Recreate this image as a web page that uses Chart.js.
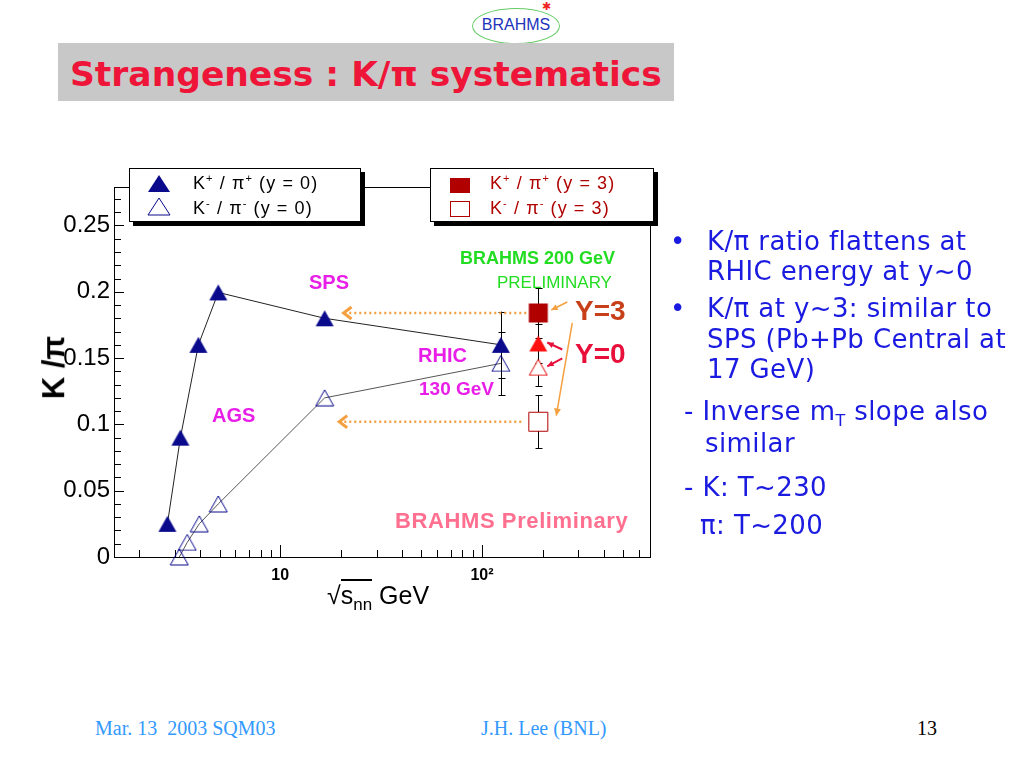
<!DOCTYPE html>
<html>
<head>
<meta charset="utf-8">
<title>Strangeness : K/π systematics</title>
<script src="https://cdn.jsdelivr.net/npm/chart.js@4.4.1/dist/chart.umd.min.js"></script>
<style>
  body { margin: 0; width: 1024px; height: 768px; position: relative; overflow: hidden; background: #fff;
         font-family: "Liberation Sans", Arial, sans-serif; }
  .abs { position: absolute; white-space: nowrap; line-height: 1; }
  #titleBar { left: 58px; top: 43px; width: 616px; height: 58px; background: #c8c8c8; }
  #title { left: 70px; top: 54px; font: bold 34.5px "DejaVu Sans", sans-serif; color: #ee1538; }
  #logo { left: 472px; top: 8px; width: 86px; height: 34px; border: 1px solid #66cc66; border-radius: 50%; }
  #logoTxt { left: 472px; top: 17px; width: 88px; text-align: center; font-size: 16px; color: #2233bb; }
  #chartBox { position: absolute; left: 0; top: 150px; width: 680px; height: 470px; }
  .legbox { position: absolute; background: #fff; border: 1px solid #000; box-shadow: 4px 4px 0 #000; }
  .legtxt { position: absolute; white-space: nowrap; font-size: 18px; line-height: 1; letter-spacing: 1.1px; }
  .legtxt sup { font-size: 11px; vertical-align: 7px; }
  .sym { position: absolute; }
  .mag { color: #e81ee8; font-weight: bold; font-size: 20px; }
  .grn { color: #22dd22; }
  .bul { color: #1a1ae0; font: 26px "DejaVu Sans", sans-serif; letter-spacing: 0.4px; }
  .foot { font: 20px "Liberation Serif", serif; color: #3399ff; }
</style>
</head>
<body>
<div id="logo" class="abs"></div>
<div id="logoTxt" class="abs">BRAHMS</div>
<div class="abs" style="left:542px;top:1px;font-size:11px;color:#ee2222">✱</div>
<div id="titleBar" class="abs"></div>
<div id="title" class="abs">Strangeness : K/π systematics</div>

<div id="chartBox"><canvas id="kpiChart" width="680" height="470"></canvas></div>

<!-- legends -->
<div class="legbox" style="left:129px;top:168px;width:230px;height:52px">
  <svg class="sym" style="left:17px;top:5px" width="24" height="19"><polygon points="12,1 23,18 1,18" fill="#0a0a8c"/></svg>
  <div class="legtxt" style="left:63px;top:4px">K<sup>+</sup> / π<sup>+</sup> (y = 0)</div>
  <svg class="sym" style="left:17px;top:28px" width="24" height="19"><polygon points="12,1 23,18 1,18" fill="none" stroke="#0a0a8c" stroke-width="1"/></svg>
  <div class="legtxt" style="left:63px;top:29px">K<sup>-</sup> / π<sup>-</sup> (y = 0)</div>
</div>
<div class="legbox" style="left:430px;top:168px;width:222px;height:52px">
  <svg class="sym" style="left:18px;top:8px" width="22" height="17"><rect x="1" y="1" width="20" height="15" fill="#b00000"/></svg>
  <div class="legtxt" style="left:59px;top:4px;color:#b00000">K<sup>+</sup> / π<sup>+</sup> (y = 3)</div>
  <svg class="sym" style="left:18px;top:31px" width="22" height="18"><rect x="1.5" y="1.5" width="19" height="15" fill="#fff" stroke="#b00000" stroke-width="1"/></svg>
  <div class="legtxt" style="left:59px;top:29px;color:#b00000">K<sup>-</sup> / π<sup>-</sup> (y = 3)</div>
</div>

<!-- axis titles -->
<div class="abs" style="left:22px;top:352px;font-size:31px;font-weight:bold;transform:rotate(-90deg);transform-origin:center">K /π</div>
<div class="abs" style="left:327px;top:583px;font-size:25px">√<span style="border-top:2px solid #000">s<sub style="font-size:17px">nn</sub></span> GeV</div>

<!-- annotations -->
<div class="abs mag" style="left:309px;top:272px">SPS</div>
<div class="abs mag" style="left:212px;top:405px">AGS</div>
<div class="abs mag" style="left:418px;top:345px">RHIC</div>
<div class="abs mag" style="left:419px;top:379px;font-size:19px">130 GeV</div>
<div class="abs grn" style="left:460px;top:249px;font-size:18px;font-weight:bold">BRAHMS 200 GeV</div>
<div class="abs grn" style="left:497px;top:274px;font-size:17px">PRELIMINARY</div>
<div class="abs" style="left:575px;top:297px;font-size:28px;font-weight:bold;color:#c8401a">Y=3</div>
<div class="abs" style="left:575px;top:340px;font-size:28px;font-weight:bold;color:#e8103a">Y=0</div>
<div class="abs" style="left:395px;top:510px;font-size:22px;font-weight:bold;letter-spacing:0.6px;color:#ff6f8f">BRAHMS Preliminary</div>

<!-- bullets -->
<div class="abs bul" style="left:670px;top:226px">•</div>
<div class="abs bul" style="left:707px;top:226px">K/π ratio flattens at</div>
<div class="abs bul" style="left:707px;top:256px">RHIC energy at y~0</div>
<div class="abs bul" style="left:670px;top:293px">•</div>
<div class="abs bul" style="left:707px;top:293px">K/π at y~3: similar to</div>
<div class="abs bul" style="left:707px;top:324px">SPS (Pb+Pb Central at</div>
<div class="abs bul" style="left:707px;top:354px">17 GeV)</div>
<div class="abs bul" style="left:684px;top:396px">- Inverse m<sub style="font-size:16px">T</sub> slope also</div>
<div class="abs bul" style="left:705px;top:428px">similar</div>
<div class="abs bul" style="left:684px;top:472px">- K: T~230</div>
<div class="abs bul" style="left:700px;top:510px">π: T~200</div>

<!-- footer -->
<div class="abs foot" style="left:95px;top:717px">Mar. 13&nbsp; 2003 SQM03</div>
<div class="abs foot" style="left:481px;top:717px">J.H. Lee (BNL)</div>
<div class="abs foot" style="left:917px;top:717px;color:#000">13</div>

<script>
// sqrt(s_nn) in GeV, K/pi ratio, error -- AGS, SPS, RHIC 130 (y = 0)
const energyKp = [2.76, 3.2, 3.93, 4.93, 16.6, 124];
const ratioKp  = [0.025, 0.090, 0.160, 0.1995, 0.180, 0.160];
const errKp    = [0, 0, 0, 0, 0, 0.025];

const energyKm = [3.16, 3.46, 3.97, 4.93, 16.6, 124];
const ratioKm  = [0.0, 0.011, 0.025, 0.040, 0.120, 0.146];
const errKm    = [0, 0, 0, 0, 0, 0.024];

// BRAHMS 200 GeV preliminary
const energyBrahms = [190];
const ratioKpY0 = [0.161];
const errKpY0   = [0.015];
const ratioKmY0 = [0.143];
const errKmY0   = [0.014];
const ratioKpY3 = [0.184];
const errKpY3   = [0.019];
const ratioKmY3 = [0.102];
const errKmY3   = [0.020];

// axis ticks
const yTicks = [0, 0.05, 0.1, 0.15, 0.2, 0.25];
const yMinorTicks = [0.01, 0.02, 0.03, 0.04, 0.06, 0.07, 0.08, 0.09, 0.11, 0.12, 0.13, 0.14,
                     0.16, 0.17, 0.18, 0.19, 0.21, 0.22, 0.23, 0.24, 0.26, 0.27];
const xLabelTicks = [10, 100];
const xLabelText  = ['10', '10²'];
const xMinorTicks = [2, 3, 4, 5, 6, 7, 8, 9, 20, 30, 40, 50, 60, 70, 80, 90, 200, 300, 400, 500, 600];

const NAVY = '#0a0a8c';
const RED = '#ff1010';
const DARKRED = '#b00000';
const ORANGE = '#f5a040';

function toPoints(xs, ys) {
    return xs.map((x, i) => ({ x: x, y: ys[i] }));
}

// marker drawn into a small canvas so it is centred on its box like ROOT markers
function makeMarker(shape, w, h, fill, stroke) {
    const c = document.createElement('canvas');
    c.width = w + 2;
    c.height = h + 2;
    const g = c.getContext('2d');
    g.beginPath();
    if (shape === 'tri') {
        g.moveTo(w / 2 + 1, 1);
        g.lineTo(w + 1, h + 1);
        g.lineTo(1, h + 1);
        g.closePath();
    } else {
        g.rect(1.5, 1.5, w - 1, h - 1);
    }
    if (fill) { g.fillStyle = fill; g.fill(); }
    if (stroke) { g.strokeStyle = stroke; g.lineWidth = 1; g.stroke(); }
    return c;
}

const errorSets = [errKp, errKm, errKpY0, errKmY0, errKpY3, errKmY3];

const framePlugin = {
    id: 'frame',
    beforeDatasetsDraw(chart) {
        const { ctx, chartArea: a, scales } = chart;
        const x = scales.x, y = scales.y;
        ctx.save();
        ctx.strokeStyle = '#000';
        ctx.lineWidth = 1;
        ctx.strokeRect(Math.round(a.left) + 0.5, Math.round(a.top) + 0.5,
                       Math.round(a.right - a.left), Math.round(a.bottom - a.top));
        ctx.beginPath();
        yTicks.concat(yMinorTicks).forEach(v => {
            const py = Math.round(y.getPixelForValue(v)) + 0.5;
            const len = yTicks.includes(v) ? 10 : 7;
            ctx.moveTo(a.left, py);
            ctx.lineTo(a.left + len, py);
        });
        xLabelTicks.concat(xMinorTicks).forEach(v => {
            const px = Math.round(x.getPixelForValue(v)) + 0.5;
            const len = xLabelTicks.includes(v) ? 12 : 7;
            ctx.moveTo(px, a.bottom);
            ctx.lineTo(px, a.bottom - len);
        });
        ctx.stroke();

        // error bars
        ctx.beginPath();
        chart.data.datasets.forEach((ds, di) => {
            const errs = errorSets[di];
            ds.data.forEach((p, i) => {
                if (!errs[i]) return;
                const px = Math.round(x.getPixelForValue(p.x)) + 0.5;
                const top = y.getPixelForValue(p.y + errs[i]);
                const bot = y.getPixelForValue(p.y - errs[i]);
                ctx.moveTo(px, top); ctx.lineTo(px, bot);
                ctx.moveTo(px - 3, Math.round(top) + 0.5); ctx.lineTo(px + 4, Math.round(top) + 0.5);
                ctx.moveTo(px - 3, Math.round(bot) + 0.5); ctx.lineTo(px + 4, Math.round(bot) + 0.5);
            });
        });
        ctx.stroke();
        ctx.restore();
    },
    afterDatasetsDraw(chart) {
        const { ctx, scales } = chart;
        const x = scales.x, y = scales.y;
        const bx = x.getPixelForValue(energyBrahms[0]);

        function arrowHead(tx, ty, fx, fy, size, spread, color, open) {
            const ang = Math.atan2(ty - fy, tx - fx);
            ctx.beginPath();
            ctx.moveTo(tx - size * Math.cos(ang - spread), ty - size * Math.sin(ang - spread));
            ctx.lineTo(tx, ty);
            ctx.lineTo(tx - size * Math.cos(ang + spread), ty - size * Math.sin(ang + spread));
            if (open) {
                ctx.strokeStyle = color; ctx.lineWidth = 3; ctx.stroke();
            } else {
                ctx.closePath(); ctx.fillStyle = color; ctx.fill();
            }
        }
        function arrow(fx, fy, tx, ty, color, width, dashed, size, spread, open) {
            ctx.save();
            ctx.strokeStyle = color;
            ctx.lineWidth = width;
            if (dashed) ctx.setLineDash([2, 3]);
            ctx.beginPath();
            ctx.moveTo(fx, fy);
            ctx.lineTo(tx, ty);
            ctx.stroke();
            ctx.setLineDash([]);
            arrowHead(tx, ty, fx, fy, size, spread, color, open);
            ctx.restore();
        }
        ctx.save();
        // dotted arrows toward the SPS values
        const y3p = y.getPixelForValue(ratioKpY3[0]);
        const y3m = y.getPixelForValue(ratioKmY3[0]);
        arrow(bx - 12, y3p, x.getPixelForValue(20.6), y3p, ORANGE, 2.5, true, 10, 0.65, true);
        arrow(bx - 17, y3m, x.getPixelForValue(19.6), y3m, ORANGE, 2.5, true, 10, 0.65, true);
        // small arrows pointing to the 200 GeV markers
        arrow(bx + 29, y3p - 11, bx + 13, y3p - 3, ORANGE, 1.5, false, 7, 0.45, false);
        const y0p = y.getPixelForValue(ratioKpY0[0]);
        const y0m = y.getPixelForValue(ratioKmY0[0]);
        arrow(bx + 24, y0p + 6, bx + 9, y0p - 1, '#e8103a', 2, false, 7, 0.45, false);
        arrow(bx + 24, y0m - 9, bx + 9, y0m - 1, '#e8103a', 2, false, 7, 0.45, false);
        arrow(bx + 34, y3p + 10, bx + 18, y3m - 6, ORANGE, 1.5, false, 8, 0.45, false);
        ctx.restore();
    }
};

const triFilledNavy = makeMarker('tri', 18, 16, NAVY, null);
const triOpenNavy = makeMarker('tri', 18, 16, null, NAVY);
const triFilledRed = makeMarker('tri', 18, 16, RED, null);
const triOpenRed = makeMarker('tri', 18, 16, '#fff', '#e00000');
const sqFilled = makeMarker('sq', 20, 20, DARKRED, null);
const sqOpen = makeMarker('sq', 20, 20, '#fff', DARKRED);

new Chart(document.getElementById('kpiChart'), {
    type: 'scatter',
    data: {
        datasets: [
            { label: 'K+/pi+ (y=0)', data: toPoints(energyKp, ratioKp), showLine: true,
              borderColor: '#222', borderWidth: 1, pointStyle: triFilledNavy, pointRadius: 9, clip: false },
            { label: 'K-/pi- (y=0)', data: toPoints(energyKm, ratioKm), showLine: true,
              borderColor: '#555', borderWidth: 1, pointStyle: triOpenNavy, pointRadius: 9, clip: false },
            { label: 'K+/pi+ (y=0) 200', data: toPoints(energyBrahms, ratioKpY0),
              pointStyle: triFilledRed, pointRadius: 9, clip: false },
            { label: 'K-/pi- (y=0) 200', data: toPoints(energyBrahms, ratioKmY0),
              pointStyle: triOpenRed, pointRadius: 9, clip: false },
            { label: 'K+/pi+ (y=3)', data: toPoints(energyBrahms, ratioKpY3),
              pointStyle: sqFilled, pointRadius: 10, clip: false },
            { label: 'K-/pi- (y=3)', data: toPoints(energyBrahms, ratioKmY3),
              pointStyle: sqOpen, pointRadius: 10, clip: false }
        ]
    },
    options: {
        responsive: false,
        animation: false,
        layout: { padding: { left: 0, top: 37, right: 30, bottom: 0 } },
        plugins: { legend: { display: false }, tooltip: { enabled: false } },
        scales: {
            x: {
                type: 'logarithmic',
                min: 1.5,
                max: 680,
                grid: { display: false, drawTicks: false },
                border: { display: false },
                afterFit: s => { s.height = 63; },
                afterBuildTicks: s => { s.ticks = xLabelTicks.map(v => ({ value: v })); },
                ticks: {
                    padding: 9,
                    autoSkip: false,
                    maxRotation: 0,
                    color: '#000',
                    font: { family: 'Liberation Sans', size: 16, weight: 'bold' },
                    callback: (v) => xLabelText[xLabelTicks.indexOf(v)]
                }
            },
            y: {
                min: 0,
                max: 0.279,
                grid: { display: false, drawTicks: false },
                border: { display: false },
                afterFit: s => { s.width = 114; },
                afterBuildTicks: s => { s.ticks = yTicks.map(v => ({ value: v })); },
                ticks: {
                    padding: 4,
                    color: '#000',
                    font: { family: 'Liberation Sans', size: 24 },
                    callback: (v) => String(+v.toFixed(2))
                }
            }
        }
    },
    plugins: [framePlugin]
});
</script>
</body>
</html>
